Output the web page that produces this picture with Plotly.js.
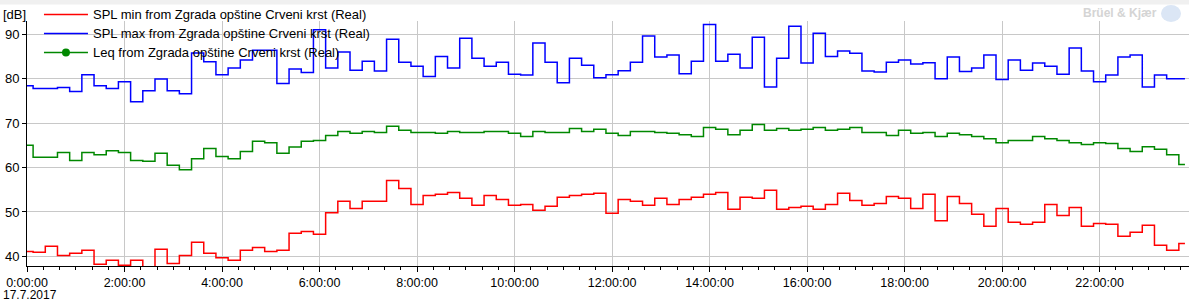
<!DOCTYPE html>
<html><head><meta charset="utf-8">
<script src="https://cdn.plot.ly/plotly-3.0.1.min.js"></script>
<style>html,body{margin:0;padding:0;background:#fff;overflow:hidden}#chart{width:1189px;height:303px}</style>
</head><body><div id="chart"></div>
<script>
// 15-minute values, 17.7.2017 00:00 .. 23:45
const splMin = [41.1,40.9,42.3,40.2,40.7,41.4,38.2,39.1,38.0,39.1,37.0,41.6,
  38.4,40.2,43.2,40.7,39.7,39.1,41.4,42.0,41.1,41.4,45.2,45.6,
  45.0,49.8,52.4,50.8,52.4,52.4,57.1,55.3,51.7,53.7,54.0,54.4,
  53.1,51.5,53.7,52.8,51.5,51.7,50.4,51.3,53.3,53.7,54.0,54.2,
  49.7,52.8,52.4,51.5,53.1,51.7,52.8,53.3,54.0,54.4,50.6,53.3,
  53.1,54.9,50.6,51.0,51.3,50.6,51.7,54.2,52.6,51.5,51.9,53.5,
  53.1,50.8,54.0,48.0,53.5,51.9,49.5,46.8,50.8,47.7,47.2,47.7,
  51.7,49.2,51.0,46.8,47.4,47.2,44.5,45.4,47.0,42.5,41.4,42.9];
const splMax = [78.4,77.8,77.8,78.0,77.1,80.9,78.4,77.8,79.3,74.8,77.3,79.9,
  77.3,76.6,85.8,83.8,80.9,82.4,84.2,86.4,86.4,78.9,82.2,81.4,
  91.0,82.4,86.0,81.9,83.9,81.7,88.9,83.7,82.8,80.5,85.0,82.4,
  89.1,84.6,82.8,83.7,81.0,80.8,88.0,83.7,79.1,84.6,83.0,80.2,
  80.9,81.8,83.7,89.6,84.9,85.3,81.1,83.9,92.2,83.9,85.5,82.4,
  89.3,78.1,84.6,91.8,83.5,90.2,85.0,86.2,85.7,81.7,81.5,83.7,
  84.2,83.3,83.6,80.0,84.9,81.6,82.4,85.3,79.8,84.2,81.9,83.5,
  82.8,81.0,86.9,81.7,79.3,80.8,84.9,85.3,78.1,80.8,80.0,80.0];
const leq = [65.0,62.3,62.3,63.4,61.6,63.4,62.9,63.8,63.4,61.6,61.4,63.2,
  60.5,59.5,62.0,64.3,62.5,62.0,63.6,65.9,65.6,63.2,64.6,65.9,
  66.1,67.2,68.1,67.7,68.1,67.9,69.3,68.4,67.9,67.9,67.7,68.1,
  67.9,67.9,68.1,68.1,67.7,67.0,68.1,67.9,67.9,68.8,68.1,68.6,
  67.7,67.2,68.1,68.1,67.9,67.7,67.4,67.0,69.0,68.6,67.4,68.4,
  69.7,68.4,68.8,68.4,68.6,69.0,68.4,68.6,69.0,67.9,67.9,67.2,
  68.4,67.7,67.9,67.0,67.7,67.4,67.0,66.5,65.6,66.1,66.1,67.0,
  66.5,66.1,65.6,65.2,65.6,65.4,64.3,63.6,64.7,64.1,62.9,60.7];
const seriesNames = ['SPL min from Zgrada opštine Crveni krst (Real)',
  'SPL max from Zgrada opštine Crveni krst (Real)',
  'Leq from Zgrada opštine Crveni krst (Real)'];
const dateLabel = '17.7.2017';
const startDate = '2017-07-17';

const times = [];
for (let i = 0; i < splMin.length; i++) {
  const h = Math.floor(i / 4), m = (i % 4) * 15;
  times.push(startDate + ' ' + String(h).padStart(2, '0') + ':' + String(m).padStart(2, '0') + ':00');
}
const legendName = s => '<span style="font-size:13px">' + s + '</span>';

const traces = [
  {x: times, y: splMin, name: legendName(seriesNames[0]), type: 'scatter', mode: 'lines',
   line: {shape: 'hvh', color: '#ff0000', width: 1.5}},
  {x: times, y: splMax, name: legendName(seriesNames[1]), type: 'scatter', mode: 'lines',
   line: {shape: 'hvh', color: '#0000ff', width: 1.5}},
  {x: times, y: leq, name: legendName(seriesNames[2]), type: 'scatter', mode: 'lines+markers',
   line: {shape: 'hvh', color: '#008800', width: 1.5},
   marker: {size: 8, color: '#008800', symbol: 'circle'},
   selectedpoints: [], unselected: {marker: {opacity: 0}}}
];

const layout = {
  width: 1189, height: 303,
  margin: {l: 27, r: 0, t: 20, b: 37, pad: 0},
  paper_bgcolor: '#ffffff', plot_bgcolor: '#ffffff',
  font: {family: 'Liberation Sans, Arial, sans-serif', size: 13, color: '#000'},
  showlegend: true,
  hovermode: false,
  legend: {x: 0.0103, y: 1.087, xanchor: 'left', yanchor: 'top', bgcolor: 'rgba(0,0,0,0)',
    font: {size: 12, color: '#000'}, itemwidth: 44, traceorder: 'normal', borderwidth: 0},
  xaxis: {type: 'date', range: [startDate + ' 00:00:00', startDate + ' 23:50:00'],
    tickformat: '%-H:%M:%S', dtick: 7200000, tick0: startDate + ' 00:00:00',
    ticks: 'outside', ticklen: 5, tickcolor: '#000', tickwidth: 1,
    showline: true, linecolor: '#000', linewidth: 1,
    showgrid: true, gridcolor: '#c8c8c8', gridwidth: 1, zeroline: false,
    minor: {dtick: 1200000, tick0: startDate + ' 00:00:00', ticks: 'outside', ticklen: 3, tickcolor: '#000', showgrid: false},
    tickfont: {size: 12.5, color: '#000'}, automargin: false, fixedrange: true},
  yaxis: {range: [37.83, 92.98], dtick: 10, tick0: 0,
    ticks: 'outside', ticklen: 4, tickcolor: '#000', tickwidth: 1,
    showline: true, linecolor: '#000', linewidth: 1,
    showgrid: true, gridcolor: '#c8c8c8', gridwidth: 1, zeroline: false,
    tickfont: {size: 13, color: '#000'}, automargin: false, fixedrange: true},
  shapes: [
    {type: 'rect', xref: 'paper', yref: 'paper', x0: -0.03, x1: 1.01, y0: 1 + 16.5/246, y1: 1 + 21/246,
     fillcolor: '#f0f0f0', line: {width: 0}, layer: 'below'},
    {type: 'circle', xref: 'paper', yref: 'paper', xsizemode: 'pixel', ysizemode: 'pixel',
     xanchor: 1, yanchor: 1, x0: -28, x1: -8, y0: -1, y1: 16,
     fillcolor: '#dbe6f5', line: {width: 0}}
  ],
  annotations: [
    {text: '[dB]', xref: 'paper', yref: 'paper', x: 0, y: 1, xanchor: 'left', yanchor: 'middle',
     xshift: -26, yshift: 7, showarrow: false, font: {size: 13, color: '#000'}},
    {text: dateLabel, xref: 'paper', yref: 'paper', x: 0, y: 0, xanchor: 'left', yanchor: 'bottom',
     xshift: -25, yshift: -37, borderpad: 0, showarrow: false, font: {size: 12, color: '#000'}},
    {text: '<b>Brüel & Kjær</b>', xref: 'paper', yref: 'paper', x: 1, y: 1, xanchor: 'right', yanchor: 'middle',
     xshift: -30, yshift: 8, showarrow: false, font: {size: 12, color: '#d4d4d4'}}
  ]
};

Plotly.newPlot('chart', traces, layout, {staticPlot: true, displayModeBar: false});
</script>
</body></html>
